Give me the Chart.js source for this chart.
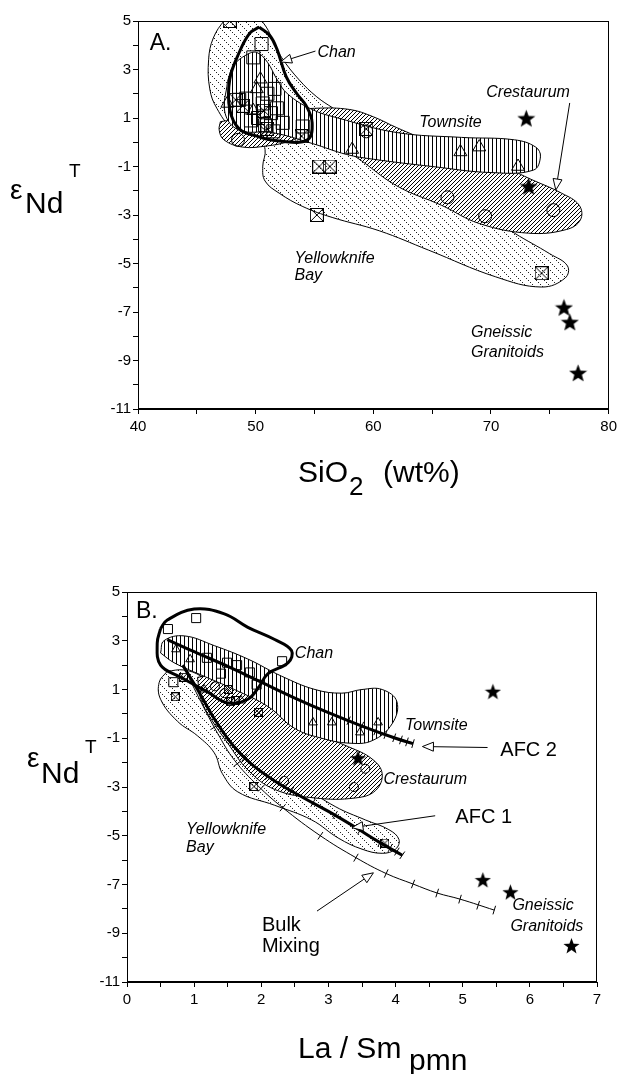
<!DOCTYPE html>
<html><head><meta charset="utf-8">
<script src="https://cdn.jsdelivr.net/npm/chart.js@4.4.1/dist/chart.umd.min.js"></script>
<style>
html,body{margin:0;padding:0;background:#fff;}
body{width:621px;height:1074px;position:relative;overflow:hidden;font-family:"Liberation Sans",Arial,Helvetica,sans-serif;}
canvas{position:absolute;left:0;}
.t{position:absolute;white-space:nowrap;color:#000;line-height:1;}
</style></head><body>
<canvas id="cA" width="621" height="500" style="top:0;width:621px;height:500px"></canvas>
<canvas id="cB" width="621" height="534" style="top:540px;width:621px;height:534px"></canvas>

<span class="t" style="left:10px;top:176px;font-size:28px">ε</span>
<span class="t" style="left:25px;top:188px;font-size:30px">Nd</span>
<span class="t" style="left:69px;top:161px;font-size:19px">T</span>
<span class="t" style="left:298px;top:457px;font-size:30px">SiO</span>
<span class="t" style="left:349px;top:473px;font-size:26px">2</span>
<span class="t" style="left:383px;top:457px;font-size:30px">(wt%)</span>

<span class="t" style="left:27px;top:744px;font-size:28px">ε</span>
<span class="t" style="left:41px;top:758px;font-size:30px">Nd</span>
<span class="t" style="left:85px;top:737px;font-size:19px">T</span>
<span class="t" style="left:298px;top:1033px;font-size:30px">La / Sm</span>
<span class="t" style="left:409px;top:1045px;font-size:30px">pmn</span>

<script>
const FONT = '"Liberation Sans", Arial, Helvetica, sans-serif';

// ================= PANEL A (SiO2 vs eNd) =================
const xLabelsA = [40, 50, 60, 70, 80];
const yLabels = [5, 3, 1, -1, -3, -5, -7, -9, -11];

const chanOutlineA = [[50.3,4.75],[51.2,4.4],[51.8,3.85],[52.6,2.7],[53.5,2.0],[54.3,1.5],[54.8,0.8],[54.4,0.1],[52.0,0.05],[50.1,0.25],[48.6,0.55],[47.8,1.35],[47.8,2.6],[48.6,3.7],[49.5,4.5]];
const townsiteA = [[47.6,2.5],[48.1,3.15],[49.2,3.6],[50.1,3.7],[51.0,3.3],[51.8,2.6],[52.7,2.0],[54.8,1.35],[57.0,1.0],[62.0,0.4],[67.5,0.2],[72.0,0.1],[73.8,-0.2],[74.2,-0.6],[73.6,-1.15],[70.0,-1.25],[65.0,-1.0],[60.0,-0.7],[57.7,-0.5],[54.8,-0.05],[51.4,0.4],[48.6,0.5],[47.4,1.2]];
const crestA = [[47.0,0.85],[49.0,1.0],[52.0,1.25],[55.0,1.4],[58.0,1.35],[60.0,1.05],[62.0,0.6],[65.0,0.0],[68.0,-0.5],[71.0,-1.0],[73.5,-1.55],[76.0,-2.1],[77.5,-2.6],[77.6,-3.2],[76.4,-3.6],[73.2,-3.75],[69.0,-3.35],[65.8,-2.6],[62.0,-1.8],[58.5,-0.6],[56.0,0.1],[54.8,0.35],[52.6,0.0],[51.0,-0.15],[48.9,-0.2],[47.3,0.1],[46.9,0.5]];
const yellowknifeA = [[48.9,5.33],[50.1,5.16],[50.9,4.75],[51.5,4.15],[52.2,3.5],[53.7,2.57],[55.2,1.87],[56.6,1.4],[60.0,0.3],[64.0,-1.1],[68.0,-2.5],[72.0,-3.75],[75.0,-4.6],[76.5,-5.1],[76.3,-5.6],[74.3,-5.97],[70.4,-5.55],[64.7,-4.45],[60.5,-3.65],[56.5,-3.1],[54.0,-2.65],[52.0,-2.1],[50.8,-1.6],[50.6,-1.0],[50.8,-0.3],[50.2,0.2],[48.0,0.6],[46.7,1.4],[46.1,2.2],[46.0,3.4],[46.4,4.3],[47.4,5.05],[48.2,5.35]];

const chanPtsA = [[50.5,4.05],[49.8,3.5],[51.6,2.2],[51.0,2.0],[50.6,1.6],[49.2,1.8],[48.6,1.75],[51.3,1.2],[50.2,1.0],[51.8,1.4],[50.8,0.7],[52.3,0.8],[54.0,0.65],[49.6,0.9],[51.5,0.45]];
const townPtsA = [[50.4,2.6],[50.1,2.2],[47.6,1.6],[49.8,1.3],[58.2,-0.3],[67.4,-0.4],[69.0,-0.2],[72.3,-1.0]];
const crestPtsA = [[48.5,0.1],[59.4,0.45],[66.3,-2.27],[69.5,-3.05],[75.3,-2.8],[50.9,0.8]];
const ykPtsA = [[47.8,5.0],[48.3,1.75],[48.9,1.5],[50.7,1.3],[51.0,0.55],[53.9,0.25],[59.4,0.55],[55.4,-1.0],[56.3,-1.0],[55.2,-3.0],[74.3,-5.4]];
const gneissPtsA = [[73.0,1.0],[73.2,-1.8],[76.2,-6.8],[76.7,-7.4],[77.4,-9.5]];

const textsA = [
  {t:'A.', at:[41.0,3.8], size:23, italic:false},
  {t:'Chan', at:[55.25,3.52], size:16, italic:true},
  {t:'Townsite', at:[63.9,0.63], size:16, italic:true},
  {t:'Crestaurum', at:[69.6,1.87], size:16, italic:true},
  {t:'Yellowknife', at:[53.3,-4.98], size:16, italic:true},
  {t:'Bay', at:[53.3,-5.68], size:16, italic:true},
  {t:'Gneissic', at:[68.3,-8.03], size:16, italic:true},
  {t:'Granitoids', at:[68.3,-8.86], size:16, italic:true}
];
const arrowsA = [
  {from:[55.08,3.76], to:[52.12,3.31]},
  {from:[76.69,1.62], to:[75.51,-1.97]}
];

// ================= PANEL B (La/Sm vs eNd) =================
const xLabelsB = [0, 1, 2, 3, 4, 5, 6, 7];

const chanOutlineB = [[0.5,3.5],[0.6,3.85],[1.0,4.3],[1.45,4.1],[1.8,3.55],[2.2,3.05],[2.45,2.6],[2.4,2.1],[2.1,1.65],[1.95,1.05],[1.8,0.6],[1.5,0.45],[1.2,0.9],[0.8,1.5],[0.5,2.0],[0.45,2.9]];
const townsiteB = [[0.5,2.5],[0.55,3.0],[0.85,3.2],[1.3,2.8],[1.8,2.25],[2.3,1.55],[2.8,1.0],[3.2,0.85],[3.5,1.0],[3.8,1.0],[4.02,0.5],[3.95,-0.4],[3.65,-1.1],[3.3,-1.2],[2.9,-1.0],[2.5,-0.6],[2.1,0.3],[1.6,1.0],[1.1,1.6],[0.7,2.1]];
const crestB = [[1.05,1.5],[1.4,1.6],[1.8,1.3],[2.05,0.6],[2.3,-0.1],[2.8,-0.8],[3.3,-1.35],[3.65,-1.85],[3.8,-2.45],[3.7,-3.15],[3.4,-3.45],[2.8,-3.45],[2.2,-3.1],[1.8,-2.3],[1.5,-1.2],[1.25,-0.2],[1.1,0.6]];
const yellowknifeB = [[0.6,1.75],[0.48,1.3],[0.5,0.6],[0.75,-0.3],[1.05,-0.9],[1.3,-1.6],[1.42,-2.45],[1.65,-3.2],[2.2,-3.75],[2.75,-4.35],[3.15,-5.1],[3.5,-5.55],[3.8,-5.72],[4.0,-5.55],[4.05,-5.15],[3.9,-4.75],[3.55,-4.35],[3.1,-3.8],[2.6,-2.9],[2.2,-2.0],[1.9,-1.0],[1.65,0.0],[1.4,0.9],[1.1,1.55],[0.85,1.8]];

const afc2Curve = [[0.6,3.05],[1.0,2.55],[1.5,1.95],[2.0,1.3],[2.5,0.65],[3.0,0.05],[3.5,-0.5],[4.0,-1.0],[4.26,-1.22]];
const afc2Ticks = [[3.3,-0.28],[3.5,-0.5],[3.7,-0.7],[3.85,-0.85],[3.98,-0.98],[4.08,-1.07],[4.17,-1.15],[4.26,-1.22]];
const afc1Curve = [[0.83,2.0],[1.05,1.0],[1.3,-0.2],[1.58,-1.3],[1.85,-2.05],[2.2,-2.75],[2.6,-3.4],[3.0,-4.0],[3.4,-4.65],[3.75,-5.25],[4.1,-5.8]];
const afc1Ticks = [[1.75,-1.8],[2.1,-2.55],[2.45,-3.15],[2.77,-3.65],[3.1,-4.15],[3.47,-4.78],[3.77,-5.28],[3.92,-5.5],[4.02,-5.65],[4.1,-5.8]];
const bulkCurve = [[0.85,1.9],[1.1,0.5],[1.35,-0.8],[1.6,-1.9],[1.95,-2.95],[2.32,-3.85],[2.88,-5.0],[3.41,-5.9],[3.86,-6.55],[4.26,-6.98],[4.62,-7.35],[4.96,-7.6],[5.47,-8.05]];
const bulkTicks = [[1.3,-0.55],[1.64,-2.05],[2.0,-3.05],[2.32,-3.85],[2.88,-5.0],[3.41,-5.9],[3.86,-6.55],[4.26,-6.98],[4.62,-7.35],[4.96,-7.6],[5.23,-7.85],[5.47,-8.05]];

const chanPtsB = [[1.03,3.93],[0.61,3.48],[2.31,2.16],[1.19,2.3],[1.49,2.1],[1.64,2.0],[1.83,1.7],[1.93,1.2],[0.69,1.3],[1.4,1.65]];
const townPtsB = [[0.73,2.65],[0.94,2.24],[1.7,0.55],[2.77,-0.35],[3.05,-0.35],[3.47,-0.76],[3.74,-0.35],[1.15,1.0]];
const crestPtsB = [[1.31,1.13],[1.45,0.85],[2.34,-2.75],[3.55,-2.25],[3.38,-3.0]];
const ykPtsB = [[0.84,1.5],[0.72,0.7],[1.51,1.0],[1.54,0.5],[1.62,0.55],[1.96,0.06],[1.89,-2.98],[3.84,-5.3]];
const gneissPtsB = [[5.45,0.93],[3.44,-1.8],[5.3,-6.8],[5.71,-7.3],[6.62,-9.5]];

const textsB = [
  {t:'B.', at:[0.134,3.93], size:23, italic:false},
  {t:'Chan', at:[2.5,2.28], size:16, italic:true},
  {t:'Townsite', at:[4.14,-0.68], size:16, italic:true},
  {t:'Crestaurum', at:[3.82,-2.86], size:16, italic:true},
  {t:'Yellowknife', at:[0.88,-4.92], size:16, italic:true},
  {t:'Bay', at:[0.88,-5.66], size:16, italic:true},
  {t:'Gneissic', at:[5.74,-8.05], size:16, italic:true},
  {t:'Granitoids', at:[5.71,-8.91], size:16, italic:true},
  {t:'AFC 2', at:[5.56,-1.71], size:20, italic:false},
  {t:'AFC 1', at:[4.89,-4.47], size:20, italic:false},
  {t:'Bulk', at:[2.01,-8.91], size:20, italic:false},
  {t:'Mixing', at:[2.01,-9.77], size:20, italic:false}
];
const arrowsB = [
  {from:[5.37,-1.38], to:[4.40,-1.34]},
  {from:[4.59,-4.18], to:[3.35,-4.67]},
  {from:[2.83,-8.09], to:[3.67,-6.52]}
];

// ================= helpers =================
const P = arr => arr.map(([x,y]) => ({x, y}));
const closed = arr => P([...arr, arr[0]]);

function tile(w, h, draw) {
  const c = document.createElement('canvas'); c.width = w; c.height = h;
  const g = c.getContext('2d'); g.fillStyle = '#fff'; g.fillRect(0,0,w,h);
  g.fillStyle = '#000'; draw(g);
  return g.createPattern(c, 'repeat');
}
const patDots = tile(8, 8, g => { g.fillStyle = '#222'; for (let i = 0; i < 8; i += 2) g.fillRect(i, i, 1, 1); });
const patDiag = tile(4, 4, g => { for (let i = 0; i < 4; i++) g.fillRect(i, 3 - i, 1, 1); });
const patVert = tile(4, 4, g => { g.fillRect(0, 0, 1, 4); });

function boxX(s) {
  const c = document.createElement('canvas'); c.width = c.height = s;
  const g = c.getContext('2d'); g.strokeStyle = '#000'; g.lineWidth = 1;
  g.strokeRect(0.5, 0.5, s - 1, s - 1);
  g.beginPath(); g.moveTo(1, 1); g.lineTo(s - 1, s - 1); g.moveTo(s - 1, 1); g.lineTo(1, s - 1); g.stroke();
  return c;
}
function starImg(s) {
  const c = document.createElement('canvas'); c.width = c.height = s;
  const g = c.getContext('2d'); const R = s / 2, r = R * 0.42;
  g.beginPath();
  for (let i = 0; i < 10; i++) {
    const a = -Math.PI / 2 + i * Math.PI / 5, rr = i % 2 ? r : R;
    g.lineTo(R + rr * Math.cos(a), R + 0.06 * s + rr * Math.sin(a));
  }
  g.closePath(); g.fillStyle = '#000'; g.fill();
  return c;
}

const regionFillPlugin = {
  id: 'regionFill',
  beforeDatasetDraw(chart, args) {
    const ds = chart.data.datasets[args.index];
    if (!ds.regionFill) return;
    const line = args.meta.dataset; if (!line) return;
    const ctx = chart.ctx, a = chart.chartArea;
    line.updateControlPoints(a, 'x');
    ctx.save();
    ctx.beginPath(); ctx.rect(a.left, a.top, a.right - a.left, a.bottom - a.top); ctx.clip();
    ctx.beginPath(); line.path(ctx); ctx.closePath();
    ctx.fillStyle = ds.regionFill; ctx.fill();
    ctx.restore();
  }
};
const framePlugin = {
  id: 'frame',
  afterDatasetsDraw(chart) {
    const ctx = chart.ctx, a = chart.chartArea;
    ctx.save(); ctx.strokeStyle = '#000'; ctx.lineWidth = 1;
    ctx.strokeRect(Math.round(a.left) + 0.5, Math.round(a.top) + 0.5, Math.round(a.right - a.left) - 1, Math.round(a.bottom - a.top) - 1);
    ctx.restore();
  }
};
const annotPlugin = {
  id: 'annot',
  afterDatasetsDraw(chart, args, opts) {
    const ctx = chart.ctx, sx = chart.scales.x, sy = chart.scales.y;
    ctx.save();
    ctx.strokeStyle = '#000'; ctx.lineWidth = 1;
    (opts.arrows || []).forEach(ar => {
      const x0 = sx.getPixelForValue(ar.from[0]), y0 = sy.getPixelForValue(ar.from[1]);
      const x1 = sx.getPixelForValue(ar.to[0]), y1 = sy.getPixelForValue(ar.to[1]);
      const ang = Math.atan2(y1 - y0, x1 - x0), L = 11, W = 4.5;
      const bx = x1 - L * Math.cos(ang), by = y1 - L * Math.sin(ang);
      ctx.beginPath(); ctx.moveTo(x0, y0); ctx.lineTo(bx, by); ctx.stroke();
      ctx.beginPath(); ctx.moveTo(x1, y1);
      ctx.lineTo(bx + W * Math.sin(ang), by - W * Math.cos(ang));
      ctx.lineTo(bx - W * Math.sin(ang), by + W * Math.cos(ang));
      ctx.closePath(); ctx.fillStyle = '#fff'; ctx.fill(); ctx.stroke();
    });
    ctx.fillStyle = '#000'; ctx.textAlign = 'left'; ctx.textBaseline = 'alphabetic';
    (opts.texts || []).forEach(t => {
      ctx.font = (t.italic ? 'italic ' : '') + t.size + 'px ' + FONT;
      ctx.fillText(t.t, sx.getPixelForValue(t.at[0]), sy.getPixelForValue(t.at[1]));
    });
    ctx.restore();
  }
};

function perpRotation(c) {
  const d = c.dataset.data, i = c.dataIndex, ch = c.chart;
  if (!d || i === undefined) return 0;
  const a = d[Math.max(0, i - 1)], b = d[Math.min(d.length - 1, i + 1)];
  const sx = ch.scales.x, sy = ch.scales.y;
  const dx = sx.getPixelForValue(b.x) - sx.getPixelForValue(a.x);
  const dy = sy.getPixelForValue(b.y) - sy.getPixelForValue(a.y);
  return Math.atan2(dy, dx) * 180 / Math.PI + 90;
}

const near = (v, list) => list.some(l => Math.abs(l - v) < 1e-6);

function scalesFor(xmin, xmax, xstep, xLabels, yWidth) {
  const tickFont = {size: 15, family: FONT};
  return {
    x: {type: 'linear', min: xmin, max: xmax,
        ticks: {stepSize: xstep, autoSkip: false, maxRotation: 0, color: '#000', font: tickFont, padding: 4,
                callback: v => near(v, xLabels) ? String(v) : ''},
        grid: {drawOnChartArea: false, drawTicks: true, tickLength: 5, tickColor: '#000', color: '#000'},
        border: {color: '#000', width: 1},
        afterFit: s => { s.height = 40; }},
    y: {type: 'linear', min: -11, max: 5,
        ticks: {stepSize: 1, autoSkip: false, color: '#000', font: tickFont, padding: 2,
                callback: v => near(v, yLabels) ? String(v) : ''},
        grid: {drawOnChartArea: false, drawTicks: true, tickLength: 5, tickColor: '#000', color: '#000'},
        border: {color: '#000', width: 1},
        afterFit: s => { s.width = yWidth; }}
  };
}

function markerSets(sz, chanPts, townPts, crestPts, ykPts, gnPts) {
  const common = {type: 'scatter', borderColor: '#000', backgroundColor: 'rgba(0,0,0,0)', borderWidth: 1, order: 0};
  return [
    Object.assign({}, common, {label: 'Gneissic Granitoids', data: P(gnPts), pointStyle: starImg(sz.star), pointRadius: 5}),
    Object.assign({}, common, {label: 'Yellowknife Bay', data: P(ykPts), pointStyle: boxX(sz.box), pointRadius: 5}),
    Object.assign({}, common, {label: 'Crestaurum', data: P(crestPts), pointStyle: 'circle', pointRadius: sz.circle}),
    Object.assign({}, common, {label: 'Townsite', data: P(townPts), pointStyle: 'triangle', pointRadius: sz.tri}),
    Object.assign({}, common, {label: 'Chan', data: P(chanPts), pointStyle: 'rect', pointRadius: sz.rect})
  ];
}
function regionSets(chanO, town, crest, yk) {
  const base = {type: 'line', borderColor: '#000', pointRadius: 0, tension: 0.4, fill: false, backgroundColor: 'rgba(0,0,0,0)'};
  return [
    Object.assign({}, base, {label: 'Chan field', data: closed(chanO), borderWidth: 3, order: 1}),
    Object.assign({}, base, {label: 'Townsite field', data: closed(town), borderWidth: 1, order: 2, regionFill: patVert}),
    Object.assign({}, base, {label: 'Crestaurum field', data: closed(crest), borderWidth: 1, order: 3, regionFill: patDiag}),
    Object.assign({}, base, {label: 'Yellowknife field', data: closed(yk), borderWidth: 1, order: 4, regionFill: patDots})
  ];
}

const baseOpts = {responsive: false, animation: false, devicePixelRatio: 1, events: [],
  plugins: {legend: {display: false}, tooltip: {enabled: false}}};

// ---- Chart A ----
new Chart(document.getElementById('cA'), {
  type: 'scatter',
  data: {datasets: [
    ...markerSets({star: 19, box: 14, circle: 6.5, tri: 7.5, rect: 9.2}, chanPtsA, townPtsA, crestPtsA, ykPtsA, gneissPtsA),
    ...regionSets(chanOutlineA, townsiteA, crestA, yellowknifeA)
  ]},
  options: Object.assign({}, baseOpts, {
    layout: {padding: {left: 0, top: 21, right: 11, bottom: 51}},
    scales: scalesFor(40, 80, 5, xLabelsA, 138),
    plugins: Object.assign({}, baseOpts.plugins, {annot: {texts: textsA, arrows: arrowsA}})
  }),
  plugins: [regionFillPlugin, framePlugin, annotPlugin]
});

// ---- Chart B ----
const curveBase = {type: 'line', borderColor: '#000', pointRadius: 0, tension: 0.4, fill: false, order: 1};
const tickBase = {type: 'scatter', borderColor: '#000', borderWidth: 1, pointStyle: 'line', pointRadius: 4.5, rotation: perpRotation, order: 1};
new Chart(document.getElementById('cB'), {
  type: 'scatter',
  data: {datasets: [
    ...markerSets({star: 17, box: 9, circle: 4.5, tri: 5, rect: 6.4}, chanPtsB, townPtsB, crestPtsB, ykPtsB, gneissPtsB),
    Object.assign({}, curveBase, {label: 'AFC 2', data: P(afc2Curve), borderWidth: 3}),
    Object.assign({}, tickBase, {label: 'AFC 2 steps', data: P(afc2Ticks)}),
    Object.assign({}, curveBase, {label: 'AFC 1', data: P(afc1Curve), borderWidth: 3}),
    Object.assign({}, tickBase, {label: 'AFC 1 steps', data: P(afc1Ticks)}),
    Object.assign({}, curveBase, {label: 'Bulk Mixing', data: P(bulkCurve), borderWidth: 1}),
    Object.assign({}, tickBase, {label: 'Bulk steps', data: P(bulkTicks)}),
    ...regionSets(chanOutlineB, townsiteB, crestB, yellowknifeB)
  ]},
  options: Object.assign({}, baseOpts, {
    layout: {padding: {left: 0, top: 52, right: 24, bottom: 52}},
    scales: scalesFor(0, 7, 0.5, xLabelsB, 127),
    plugins: Object.assign({}, baseOpts.plugins, {annot: {texts: textsB, arrows: arrowsB}})
  }),
  plugins: [regionFillPlugin, framePlugin, annotPlugin]
});
</script>
</body></html>
